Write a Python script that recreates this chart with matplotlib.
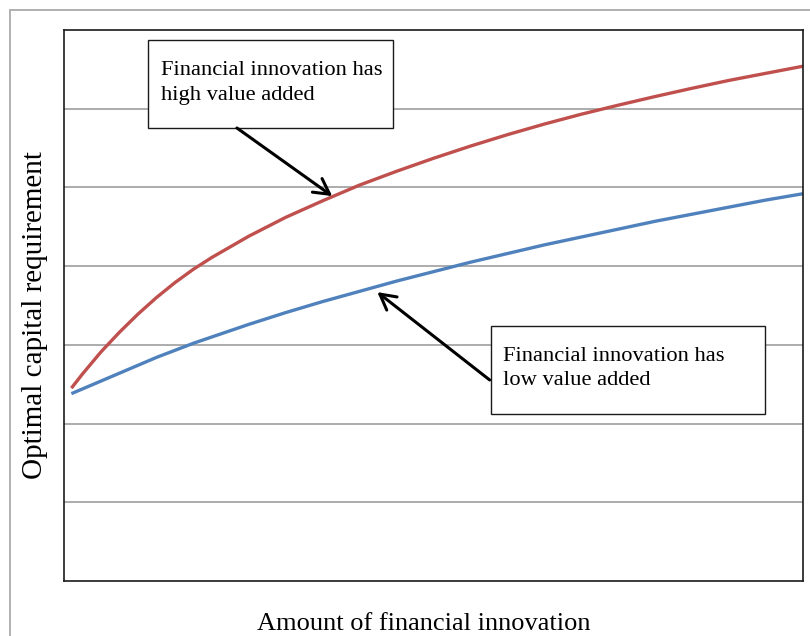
import matplotlib.pyplot as plt
from matplotlib.patches import Rectangle
from matplotlib.lines import Line2D

# values (x: amount of innovation, 0..10; y: 0..7)
x = [0.1, 0.25, 0.5, 0.75, 1.0, 1.25, 1.5, 1.75, 2.0, 2.5, 3.0, 3.5, 4.0, 4.5,
     5.0, 5.5, 6.0, 6.5, 7.0, 7.5, 8.0, 8.5, 9.0, 9.5, 10.0]
high_value = [2.45, 2.63, 2.91, 3.16, 3.39, 3.60, 3.79, 3.96, 4.11, 4.38, 4.62, 4.83, 5.03, 5.205,
              5.37, 5.525, 5.67, 5.805, 5.93, 6.045, 6.155, 6.26, 6.36, 6.45, 6.54]
low_value = [2.38, 2.44, 2.54, 2.64, 2.74, 2.84, 2.93, 3.02, 3.10, 3.26, 3.41, 3.55, 3.68, 3.81,
             3.93, 4.05, 4.16, 4.27, 4.37, 4.47, 4.57, 4.66, 4.75, 4.84, 4.92]

plt.rcParams['font.family'] = ['Liberation Serif', 'DejaVu Serif']

fig = plt.figure(figsize=(8.1, 6.36), dpi=100)
ax = fig.add_axes([64 / 810, 1 - 581 / 636, 739 / 810, 551 / 636])

ax.plot(x, high_value, color='#C0504D', lw=2.4, solid_capstyle='butt', solid_joinstyle='round')
ax.plot(x, low_value, color='#4F81BD', lw=2.4, solid_capstyle='butt', solid_joinstyle='round')

ax.set_xlim(0, 10)
ax.set_ylim(0, 7)
ax.set_yticks(range(1, 7))
ax.set_xticks([])
ax.yaxis.grid(True, color='#a6a6a6', lw=1.3)
ax.tick_params(left=False, labelleft=False)
for s in ax.spines.values():
    s.set_color('#1a1a1a')
    s.set_linewidth(1.2)

# text boxes
ax.add_patch(Rectangle((1.137, 5.755), 3.315, 1.118, facecolor='white',
                       edgecolor='#1a1a1a', lw=1.0, zorder=4))
ax.text(1.313, 6.33, 'Financial innovation has\nhigh value added', fontsize=16.2,
        va='center', ha='left', linespacing=1.4, zorder=5)
ax.add_patch(Rectangle((5.778, 2.122), 3.708, 1.118, facecolor='white',
                       edgecolor='#1a1a1a', lw=1.0, zorder=4))
ax.text(5.94, 2.70, 'Financial innovation has\nlow value added', fontsize=16.2,
        va='center', ha='left', linespacing=1.4, zorder=5)

arrow = dict(arrowstyle='->,head_length=0.55,head_width=0.3', color='black',
             lw=2.2, mutation_scale=20, shrinkA=0, shrinkB=0)
ax.annotate('', xy=(3.63, 4.89), xytext=(2.34, 5.755), arrowprops=arrow, zorder=6)
ax.annotate('', xy=(4.24, 3.67), xytext=(5.76, 2.554), arrowprops=arrow, zorder=6)

fig.text(424 / 810, 1 - 624 / 636, 'Amount of financial innovation', fontsize=19,
         ha='center', va='center')
fig.text(35 / 810, 1 - 315 / 636, 'Optimal capital requirement', fontsize=21,
         ha='center', va='center', rotation=90)

# outer frame of the chart area
fig.add_artist(Line2D([10 / 810, 10 / 810], [0, 1 - 10 / 636], color='#b0b0b0', lw=1.4))
fig.add_artist(Line2D([10 / 810, 1], [1 - 10 / 636, 1 - 10 / 636], color='#b0b0b0', lw=1.4))

fig.savefig('out.png', dpi=100)
